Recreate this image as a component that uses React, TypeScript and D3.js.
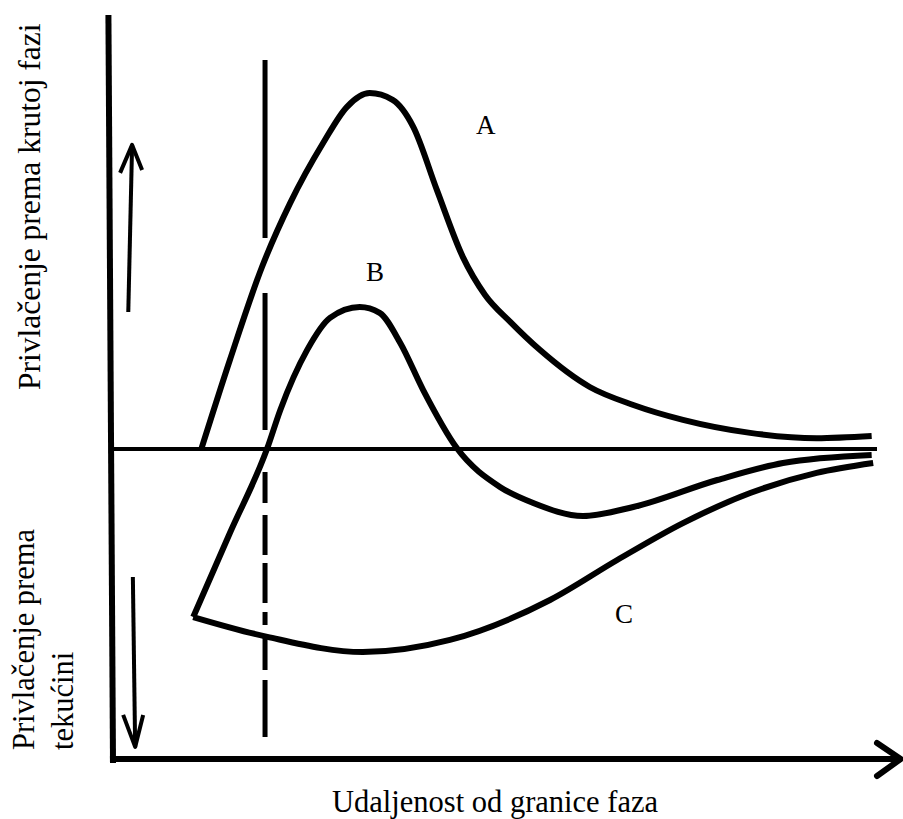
import React from 'react'
import * as d3 from 'd3'

// distance from the interface (0..100) vs. attraction (+ toward solid, - toward liquid)
const curveA: [number, number][] = [
	[11.6, 0.3], [15.3, 28.7], [19.5, 58.7], [23.2, 79.4], [27.5, 98.7], [30.6, 110.3],
	[33.6, 114.8], [36.6, 112.6], [39.3, 103.9], [42.4, 83.5], [45.8, 61.9], [48.7, 49.7],
	[52.0, 41.0], [55.9, 31.9], [62.4, 20.0], [68.1, 14.2], [74.6, 9.4], [83.4, 5.2],
	[92.1, 3.5], [99.3, 4.2],
]
const curveB: [number, number][] = [
	[10.5, -54.2], [15.3, -27.1], [20.2, 0.3], [21.9, 12.6], [25.4, 31.9], [28.4, 42.3],
	[32.3, 45.8], [34.9, 43.9], [37.6, 34.2], [40.6, 19.0], [45.0, 0.3], [50.7, -12.3],
	[55.0, -17.4], [61.5, -21.6], [68.1, -18.7], [79.1, -10.0], [87.7, -4.5], [99.3, -1.9],
]
const curveC: [number, number][] = [
	[10.5, -54.2], [20.2, -60.6], [32.7, -65.5], [44.1, -61.6], [57.2, -48.7], [66.0, -35.8],
	[74.6, -23.9], [83.4, -14.2], [92.1, -7.7], [99.5, -4.5],
]
const curveLabels = [
	{ name: 'A', x: 48.8, y: 101.6 },
	{ name: 'B', x: 34.3, y: 54.2 },
	{ name: 'C', x: 66.9, y: -56.1 },
]
const boundaryX = 19.9
const boundaryRange = [125.5, -92.9]
const boundaryDashes = '178,55,137,42,31,12,40,8,40,9,13,12,33,10,57'

const xTitle = 'Udaljenost od granice faza'
const yTitleTop = ['Privlačenje prema krutoj fazi']
const yTitleBottom = ['Privlačenje prema', 'tekućini']

const W = 903
const H = 819

export default function App() {
	const x = d3.scaleLinear().domain([0, 100]).range([113, 877])
	const y = d3.scaleLinear().domain([-100, 100]).range([759, 139])

	const line = d3
		.line<[number, number]>()
		.x(d => x(d[0]))
		.y(d => y(d[1]))
		.curve(d3.curveMonotoneX)

	const font = '"Liberation Serif", "Times New Roman", serif'
	const ink = '#000'

	// small arrows beside the y axis
	const upArrow = { x0: x(2.0), x1: x(2.5), from: y(44.2), to: y(98.1) }
	const downArrow = { x0: x(2.6), x1: x(2.9), from: y(-41.3), to: y(-96.1) }

	return (
		<svg width={W} height={H} style={{ position: 'absolute', left: 0, top: 0, background: '#fff' }}>
			{/* y axis */}
			<line x1={x(-0.6)} y1={15} x2={x(0)} y2={763} stroke={ink} strokeWidth={6} />
			{/* x axis with arrow */}
			<line x1={x(-0.4)} y1={y(-100)} x2={x(102.7)} y2={y(-100)} stroke={ink} strokeWidth={6} />
			<polyline
				points={`${x(100)},${y(-100) - 16} ${x(103.1)},${y(-100)} ${x(100)},${y(-100) + 17}`}
				fill="none" stroke={ink} strokeWidth={6} strokeLinecap="round" strokeLinejoin="round"
			/>
			{/* zero line */}
			<line x1={x(0)} y1={y(0)} x2={x(100)} y2={y(0)} stroke={ink} strokeWidth={4} />

			{/* direction arrows */}
			<line x1={upArrow.x0} y1={upArrow.from} x2={upArrow.x1} y2={upArrow.to} stroke={ink} strokeWidth={4} />
			<polyline
				points={`${upArrow.x1 - 12},${upArrow.to + 28} ${upArrow.x1},${upArrow.to} ${upArrow.x1 + 10},${upArrow.to + 25}`}
				fill="none" stroke={ink} strokeWidth={4} strokeLinejoin="round"
			/>
			<line x1={downArrow.x0} y1={downArrow.from} x2={downArrow.x1} y2={downArrow.to} stroke={ink} strokeWidth={4} />
			<polyline
				points={`${downArrow.x1 - 12},${downArrow.to - 32} ${downArrow.x1},${downArrow.to} ${downArrow.x1 + 8},${downArrow.to - 32}`}
				fill="none" stroke={ink} strokeWidth={4} strokeLinejoin="round"
			/>

			{/* phase boundary */}
			<line
				x1={x(boundaryX)} y1={y(boundaryRange[0])} x2={x(boundaryX)} y2={y(boundaryRange[1])}
				stroke={ink} strokeWidth={5} strokeDasharray={boundaryDashes}
			/>

			{[curveA, curveB, curveC].map((c, i) => (
				<path key={i} d={line(c) ?? ''} fill="none" stroke={ink} strokeWidth={6} strokeLinejoin="round" />
			))}

			{curveLabels.map(l => (
				<text key={l.name} x={x(l.x)} y={y(l.y)} textAnchor="middle" fontFamily={font} fontSize={27} fill={ink}>
					{l.name}
				</text>
			))}

			<text x={(x(0) + x(100)) / 2} y={812} textAnchor="middle" fontFamily={font} fontSize={30.5} fill={ink}>
				{xTitle}
			</text>
			{yTitleTop.map((t, i) => (
				<text key={t} transform={`translate(${40 + i * 39}, 390) rotate(-90)`} fontFamily={font} fontSize={31.5} fill={ink}>
					{t}
				</text>
			))}
			{yTitleBottom.map((t, i) => (
				<text key={t} transform={`translate(${34 + i * 39}, 750) rotate(-90)`} fontFamily={font} fontSize={30.5} fill={ink}>
					{t}
				</text>
			))}
		</svg>
	)
}
